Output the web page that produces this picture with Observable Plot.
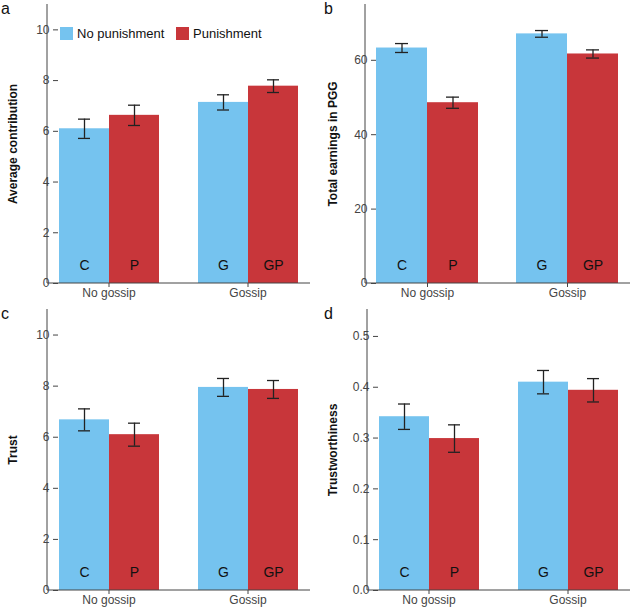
<!DOCTYPE html>
<html><head><meta charset="utf-8">
<script src="https://cdn.jsdelivr.net/npm/d3@7"></script>
<script src="https://cdn.jsdelivr.net/npm/@observablehq/plot@0.6"></script>
<style>
body{margin:0;background:#fff;font-family:Arial,"Liberation Sans",sans-serif;}
#wrap{position:relative;width:640px;height:611px;}
.p{position:absolute;}
.lt{position:absolute;font-size:16px;line-height:18px;color:#111;}
.leg{position:absolute;font-size:13px;color:#111;display:flex;align-items:center;}
.leg span.sw{display:inline-block;width:13px;height:13px;margin-right:4px;}
</style></head><body>
<div id="wrap"></div>
<script>
const gossip = ["No gossip","Gossip"];
const punish = ["No punishment","Punishment"];
const codes = ["C","P","G","GP"];
const contribution = [6.1, 6.63, 7.14, 7.78];
const contributionErr = [0.38, 0.40, 0.30, 0.25];
const earnings = [63.3, 48.6, 67.1, 61.7];
const earningsErr = [1.2, 1.5, 0.9, 1.1];
const trust = [6.68, 6.1, 7.95, 7.87];
const trustErr = [0.43, 0.45, 0.35, 0.35];
const trustworthiness = [0.342, 0.299, 0.41, 0.394];
const trustworthinessErr = [0.025, 0.027, 0.023, 0.023];
const colors = ["#75C3EF","#C8363A"];

const panels = [
  {id:"a", label:"Average contribution", v:contribution, e:contributionErr, max:11, ticks:[0,2,4,6,8,10], left:0, top:0, ml:47, mt:4, mb:22},
  {id:"b", label:"Total earnings in PGG", v:earnings, e:earningsErr, max:75, ticks:[0,20,40,60], left:320, top:0, ml:45, mt:4, mb:22},
  {id:"c", label:"Trust", v:trust, e:trustErr, max:11, ticks:[0,2,4,6,8,10], left:0, top:305, ml:47, mt:4, mb:20},
  {id:"d", label:"Trustworthiness", v:trustworthiness, e:trustworthinessErr, max:0.553, ticks:[0,0.1,0.2,0.3,0.4,0.5], left:320, top:305, ml:47, mt:4, mb:20}
];
const wrap = document.getElementById("wrap");
for (const p of panels) {
  const data = codes.map((c,i)=>({code:c, g:gossip[i>>1], pu:punish[i%2], v:p.v[i], lo:p.v[i]-p.e[i], hi:p.v[i]+p.e[i]}));
  const W=320, H=305, mr=10;
  const fmt = p.max<1 ? d3.format(".1f") : d3.format("d");
  const plot = Plot.plot({
    width:W, height:H, marginLeft:p.ml, marginRight:mr, marginTop:p.mt, marginBottom:p.mb,
    style:{fontFamily:"Arial, 'Liberation Sans', sans-serif", fontSize:"12px", color:"#444", background:"white"},
    fx:{domain:gossip, paddingInner:0.27, paddingOuter:0.08, label:null, tickSize:4, tickPadding:1},
    x:{domain:punish, padding:0, axis:null},
    y:{domain:[0,p.max], ticks:p.ticks, tickFormat:fmt, label:null, tickSize:5},
    color:{domain:punish, range:colors},
    marks:[
      Plot.barY(data,{fx:"g", x:"pu", y:"v", fill:"pu"}),
      Plot.ruleX(data,{fx:"g", x:"pu", y1:"lo", y2:"hi", stroke:"#222", strokeWidth:1.3}),
      Plot.tickY(data,{fx:"g", x:"pu", y:"lo", stroke:"#222", strokeWidth:1.3, insetLeft:19, insetRight:19}),
      Plot.tickY(data,{fx:"g", x:"pu", y:"hi", stroke:"#222", strokeWidth:1.3, insetLeft:19, insetRight:19}),
      Plot.text(data,{fx:"g", x:"pu", y:0, text:"code", dy:-18, fontSize:14, fill:"#111"})
    ]
  });
  const ys = plot.scale("y").range;
  const svg = d3.select(plot);
  svg.append("line").attr("x1",p.ml).attr("x2",p.ml).attr("y1",ys[0]).attr("y2",ys[1]).attr("stroke","#444");
  svg.append("line").attr("x1",p.ml).attr("x2",W-mr).attr("y1",ys[0]).attr("y2",ys[0]).attr("stroke","#444");
  const div = document.createElement("div");
  div.className="p"; div.style.left=p.left+"px"; div.style.top=p.top+"px";
  div.appendChild(plot);
  wrap.appendChild(div);
  const lab = document.createElement("div");
  lab.style.cssText=`position:absolute;left:${p.left+5}px;top:${p.top+p.mt}px;height:${H-p.mt-p.mb}px;width:16px;display:flex;align-items:center;justify-content:center;`;
  lab.innerHTML=`<div style="transform:rotate(-90deg);white-space:nowrap;font-weight:bold;font-size:12px;color:#111">${p.label}</div>`;
  wrap.appendChild(lab);
  const lt = document.createElement("div");
  lt.className="lt"; lt.textContent=p.id; lt.style.left=(p.left+ (p.id==="a"||p.id==="c"?1:4))+"px"; lt.style.top=(p.top)+"px";
  wrap.appendChild(lt);
}
const l1=document.createElement("div"); l1.className="leg"; l1.style.left="60px"; l1.style.top="26px";
l1.innerHTML=`<span class="sw" style="background:${colors[0]}"></span>${punish[0]}`;
const l2=document.createElement("div"); l2.className="leg"; l2.style.left="176px"; l2.style.top="26px";
l2.innerHTML=`<span class="sw" style="background:${colors[1]}"></span>${punish[1]}`;
wrap.appendChild(l1); wrap.appendChild(l2);
</script></body></html>
